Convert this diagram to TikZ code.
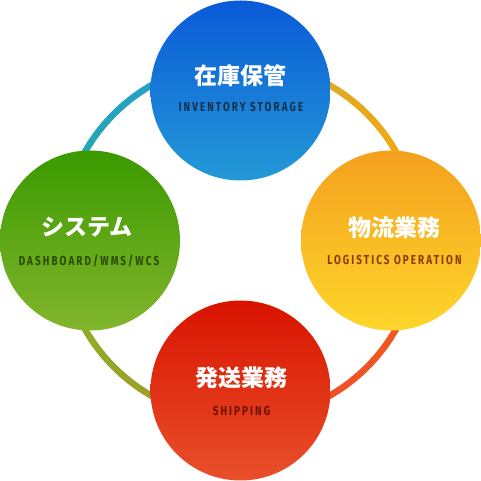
\documentclass[tikz,border=0pt]{standalone}
\usepackage{fontspec}
\newfontfamily\jp{Noto Sans CJK JP}
\newfontfamily\en{Fira Sans}[FakeStretch=0.76,LetterSpace=16]
\definecolor{blueTop}{HTML}{0A5AD8}
\definecolor{blueBot}{HTML}{2399D6}
\definecolor{orgTop}{HTML}{F4A01E}
\definecolor{orgBot}{HTML}{FED62A}
\definecolor{redTop}{HTML}{D91300}
\definecolor{redBot}{HTML}{E8502A}
\definecolor{grnTop}{HTML}{3A9A00}
\definecolor{grnBot}{HTML}{82B52C}
\definecolor{lblBlue}{HTML}{14304A}
\definecolor{lblOrg}{HTML}{8B3A00}
\definecolor{lblRed}{HTML}{6E1200}
\definecolor{lblGrn}{HTML}{2E4A00}
% ring colours (a = first angle end, b = second angle end)
\definecolor{tlA}{HTML}{1E9CD8}\definecolor{tlB}{HTML}{2AAAA2}
\definecolor{trA}{HTML}{FBAA00}\definecolor{trB}{HTML}{D2A838}
\definecolor{brA}{HTML}{EE4A2A}\definecolor{brB}{HTML}{F25E1E}
\definecolor{blA}{HTML}{86B628}\definecolor{blB}{HTML}{A69628}
\tikzset{
  bubble/.style={circle,minimum size=180pt,inner sep=0pt,draw=none},
  jptext/.style={text=white,font=\jp\bfseries\fontsize{23}{23}\selectfont},
  entext/.style={font=\en\bfseries\fontsize{13}{13}\selectfont},
  ringseg/.style={line width=6.5pt,line cap=butt}
}
\begin{document}
\begin{tikzpicture}[x=1pt,y=1pt]
\useasboundingbox (0,0) rectangle (481,481);
\coordinate (C) at (240.5,240.5);
% ring
\foreach \qa/\ca/\cb in {90/tlA/tlB,0/trA/trB,270/brA/brB,180/blA/blB}{
  \foreach \i in {0,...,29}{
    \pgfmathsetmacro\a{\qa+3*\i}
    \pgfmathsetmacro\p{100-100*\i/29}
    \draw[ringseg,color=\ca!\p!\cb] (C) ++(\a:179) arc[start angle=\a,end angle=\a+3.3,radius=179];
  }
}
% bubbles
\node[bubble,top color=blueTop,bottom color=blueBot] (top) at (240.5,390.5) {};
\node[bubble,top color=orgTop,bottom color=orgBot] (right) at (391,240.5) {};
\node[bubble,top color=redTop,bottom color=redBot] (bottom) at (240.5,90.5) {};
\node[bubble,top color=grnTop,bottom color=grnBot] (left) at (90,240.5) {};
% texts
\node[jptext] (topjp) at (240.5,405) {在庫保管};
\node[entext,text=lblBlue] (topen) at (241,373.5) {INVENTORY STORAGE};
\node[jptext] (rightjp) at (394.5,253.5) {物流業務};
\node[entext,text=lblOrg] (righten) at (394.5,221) {LOGISTICS OPERATION};
\node[jptext] (bottomjp) at (241.5,103.5) {発送業務};
\node[entext,text=lblRed] (bottomen) at (241.5,70) {SHIPPING};
\node[jptext] (leftjp) at (87,254) {システム};
\node[entext,text=lblGrn] (leften) at (89,220.5) {DASHBOARD/WMS/WCS};
\end{tikzpicture}
\end{document}
